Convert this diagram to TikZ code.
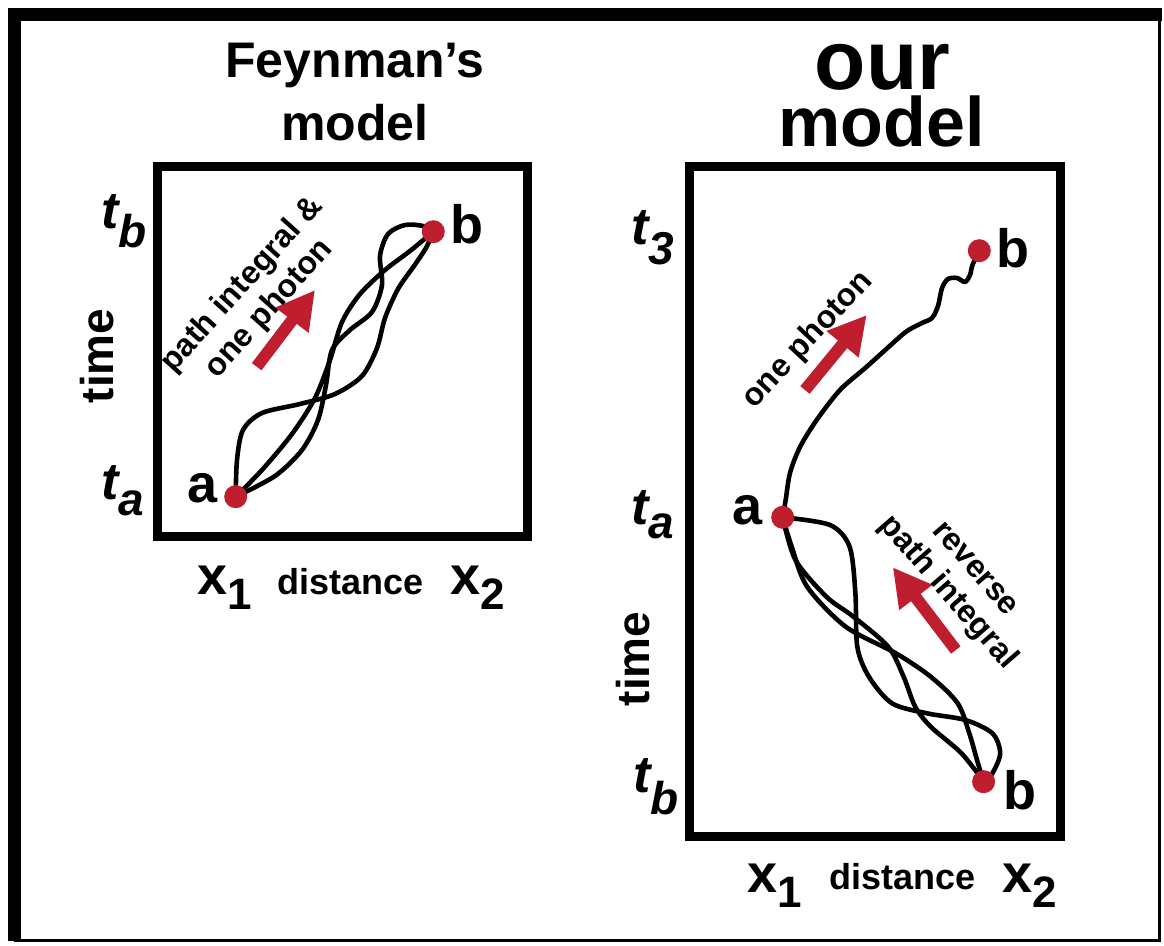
\documentclass[tikz,border=0pt]{standalone}
\usepackage{fontspec}
\setmainfont{Liberation Sans}
\usetikzlibrary{arrows.meta}
\definecolor{dotred}{RGB}{190,30,45}
\newcommand{\fsz}[1]{\fontsize{#1}{#1}\selectfont}
\newcommand{\tlab}[2]{{\fsz{26pt}\bfseries\itshape t}\raisebox{-#2}{\fsz{23pt}\bfseries\itshape #1}}
\newcommand{\xlab}[1]{{\fsz{27pt}\bfseries x}\raisebox{-7.5pt}{\fsz{22pt}\bfseries #1}}
\begin{document}
\begin{tikzpicture}[x=0.5pt,y=-0.5pt,
  pathline/.style={line width=2.3pt, line cap=round, line join=round},
  redarrow/.style={draw=dotred, line width=6pt, -{Triangle[length=19pt,width=19.5pt]}},
  dot/.style={circle, fill=dotred, inner sep=0pt, minimum size=11.5pt},
  boxframe/.style={line width=4.5pt},
  ptlab/.style={font=\fsz{27pt}\bfseries, inner sep=0pt, anchor=base},
  axlab/.style={inner sep=0pt, anchor=base west},
  distlab/.style={font=\fsz{18pt}\bfseries, inner sep=0pt, anchor=base},
  timelab/.style={font=\fsz{23pt}\bfseries, inner sep=0pt, rotate=90},
  rottext/.style={font=\fontsize{16pt}{18pt}\selectfont\bfseries, inner sep=0pt, align=center}
]
\useasboundingbox (0,0) rectangle (1164,946);
% outer frame
\draw[line width=6.5pt] (14,941) -- (14,15) -- (1162,15);
\draw[line width=1.5pt] (1159.5,15) -- (1159.5,940.5) -- (14,940.5);

% titles
\node[font=\fsz{25pt}\bfseries, inner sep=0pt, anchor=base] (ft1) at (355,78) {Feynman’s};
\node[font=\fsz{25pt}\bfseries, inner sep=0pt, anchor=base] (ft2) at (355,141) {model};
\node[font=\fsz{42pt}\bfseries, inner sep=0pt, anchor=base] (ot1) at (882.5,90) {our};
\node[font=\fsz{35pt}\bfseries, inner sep=0pt, anchor=base] (ot2) at (881.6,146.7) {model};

% boxes
\draw[boxframe] (157.5,167) rectangle (527.5,536.5);
\draw[boxframe] (689.5,167) rectangle (1060,837);

% points
\coordinate (la) at (235.7,496.7);
\coordinate (lb) at (433.3,231.7);
\coordinate (ra) at (782.7,517.3);
\coordinate (rb1) at (979.3,250.7);
\coordinate (rb2) at (983.6,781.7);

% left box paths
\draw[pathline] plot[smooth] coordinates {(la) (237,460) (243,430) (262,413) (300,404) (335,394) (362,376) (377,348) (385,318) (398,289) (414,266) (426,248) (lb)};
\draw[pathline] plot[smooth] coordinates {(la) (262,470) (292,434) (315,398) (330,360) (342,322) (360,294) (385,270) (410,251) (lb)};
\draw[pathline] plot[smooth] coordinates {(la) (275,476) (302,450) (318,420) (326,385) (332,350) (350,330) (372,312) (382,285) (380,256) (388,234) (405,225) (423,226) (lb)};

% right box: photon
\draw[pathline] plot[smooth] coordinates {(ra) (785.7,500) (790,473) (800,447) (816.7,420) (840,390) (866.7,366.7) (893,343) (907,331) (922,323) (932,318) (938,306) (942,288) (948,279) (957,278) (965,282) (970,275) (972.5,265) (rb1)};

% right box: reverse path integral
\draw[pathline] plot[smooth] coordinates {(ra) (830,525) (849.6,546.7) (855.4,593.3) (857.3,646.7) (868.9,676.7) (892,703.3) (926.8,713.3) (965.4,720) (992.4,733.3) (1000.2,753.3) (992.4,773.3) (rb2)};
\draw[pathline] plot[smooth] coordinates {(ra) (795.5,560) (826.4,596.7) (853.4,616.7) (888.2,646.7) (903.6,676.7) (915.2,706.7) (930.7,726.7) (961.5,753.3) (rb2)};
\draw[pathline] plot[smooth] coordinates {(ra) (791.7,546.7) (807.1,586.7) (845.7,626.7) (895.9,653.3) (930.7,676.7) (957.7,703.3) (969.3,733.3) (977,760) (rb2)};

% dots
\node[dot] (dla) at (la) {};
\node[dot] (dlb) at (lb) {};
\node[dot] (dra) at (ra) {};
\node[dot] (drb1) at (rb1) {};
\node[dot] (drb2) at (rb2) {};

% point labels
\node[ptlab] (lla) at (203,503) {a};
\node[ptlab] (llb) at (466.7,243.3) {b};
\node[ptlab] (lra) at (747.5,525) {a};
\node[ptlab] (lrb1) at (1012.5,268) {b};
\node[ptlab] (lrb2) at (1019.5,810) {b};

% time labels
\node[axlab] (tlb) at (101,229) {\tlab{b}{9.5pt}};
\node[axlab] (tla) at (101,500) {\tlab{a}{8pt}};
\node[axlab] (tr3) at (631,245) {\tlab{3}{10pt}};
\node[axlab] (tra) at (631,525) {\tlab{a}{7pt}};
\node[axlab] (trb) at (633,793) {\tlab{b}{11pt}};
\node[timelab] (timel) at (96.7,356) {time};
\node[timelab] (timer) at (633,659) {time};

% distance labels
\node[axlab] (lx1) at (196.7,595) {\xlab{1}};
\node[axlab] (lx2) at (450,595) {\xlab{2}};
\node[distlab] (ldist) at (350.5,595) {distance};
\node[axlab] (rx1) at (747,893) {\xlab{1}};
\node[axlab] (rx2) at (1002,893) {\xlab{2}};
\node[distlab] (rdist) at (902.5,890) {distance};

% red arrows
\coordinate (a1s) at (256.7,366.7);
\coordinate (a1e) at (315,290);
\coordinate (a2s) at (805,390);
\coordinate (a2e) at (866.7,315);
\coordinate (a3s) at (955.8,650);
\coordinate (a3e) at (892.8,567.3);
\draw[redarrow] (a1s) -- (a1e);
\draw[redarrow] (a2s) -- (a2e);
\draw[redarrow] (a3s) -- (a3e);

% rotated texts
\node[rottext, rotate=48] (txl) at (256,297) {path integral \&\\one photon};
\node[rottext, rotate=47] (txr1) at (808,340) {one photon};
\node[rottext, rotate=-49] (txr2) at (959.5,582.5) {reverse\\path integral};
\end{tikzpicture}
\end{document}
